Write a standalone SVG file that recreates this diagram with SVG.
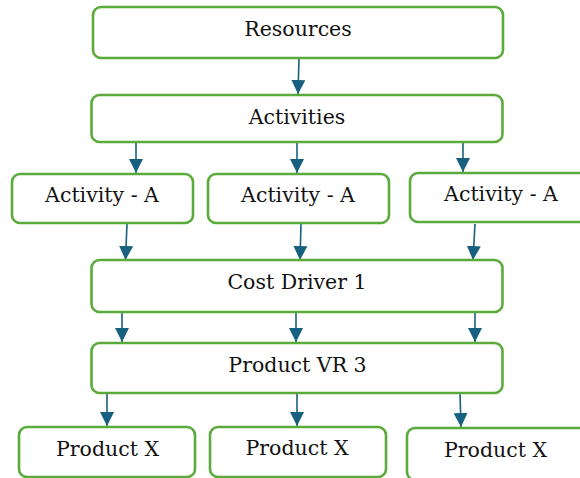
<svg xmlns="http://www.w3.org/2000/svg" width="580" height="478" viewBox="0 0 580 478">
<style>
.box{fill:#fff;stroke:#5aab3b;stroke-width:2.6}
.lbl{font-family:"DejaVu Serif","Liberation Serif",serif;font-size:20.5px;fill:#111;text-anchor:middle}
.con{stroke:#17607f;stroke-width:1.6;fill:none;marker-end:url(#ah)}
</style>
<defs>
<marker id="ah" viewBox="0 0 14 14" refX="14" refY="7" markerWidth="14" markerHeight="14" markerUnits="userSpaceOnUse" orient="auto">
<path d="M0,0 L14,7 L0,14 Z" fill="#17607f"/>
</marker>
</defs>
<rect width="580" height="478" fill="#fff"/>
<g id="connectors">
<line class="con" x1="299" y1="58" x2="298" y2="94"/>
<line class="con" x1="136" y1="142" x2="136" y2="173"/>
<line class="con" x1="297" y1="142" x2="297" y2="173"/>
<line class="con" x1="463" y1="142" x2="463" y2="172"/>
<line class="con" x1="127" y1="224" x2="125.5" y2="260"/>
<line class="con" x1="301" y1="224" x2="300" y2="260"/>
<line class="con" x1="475" y1="224" x2="473" y2="260"/>
<line class="con" x1="122" y1="312" x2="122" y2="342"/>
<line class="con" x1="296" y1="312" x2="296" y2="342"/>
<line class="con" x1="475" y1="312" x2="475" y2="342"/>
<line class="con" x1="107" y1="393" x2="107" y2="426"/>
<line class="con" x1="297" y1="393" x2="297" y2="426"/>
<line class="con" x1="460" y1="393" x2="461" y2="427"/>
</g>
<g id="resources"><rect class="box" x="93" y="7" width="410" height="51" rx="8"/><text class="lbl" x="298" y="36">Resources</text></g>
<g id="activities"><rect class="box" x="91.5" y="95" width="411" height="47" rx="8"/><text class="lbl" x="297" y="124">Activities</text></g>
<g id="activity-a1"><rect class="box" x="12" y="174" width="181" height="49" rx="8"/><text class="lbl" x="102" y="202">Activity - A</text></g>
<g id="activity-a2"><rect class="box" x="208" y="174" width="181" height="49" rx="8"/><text class="lbl" x="298" y="202">Activity - A</text></g>
<g id="activity-a3"><rect class="box" x="410" y="173" width="180" height="49" rx="8"/><text class="lbl" x="501" y="201">Activity - A</text></g>
<g id="cost-driver"><rect class="box" x="91.5" y="260" width="411" height="52" rx="8"/><text class="lbl" x="297" y="289">Cost Driver 1</text></g>
<g id="product-vr"><rect class="box" x="91.5" y="343" width="411" height="50" rx="8"/><text class="lbl" x="297.5" y="372">Product VR 3</text></g>
<g id="product-x1"><rect class="box" x="19" y="427" width="176" height="50" rx="8"/><text class="lbl" x="107.5" y="456">Product X</text></g>
<g id="product-x2"><rect class="box" x="210" y="427" width="176" height="50" rx="8"/><text class="lbl" x="297" y="455">Product X</text></g>
<g id="product-x3"><rect class="box" x="407" y="428" width="180" height="52" rx="8"/><text class="lbl" x="495.5" y="457">Product X</text></g>
</svg>
